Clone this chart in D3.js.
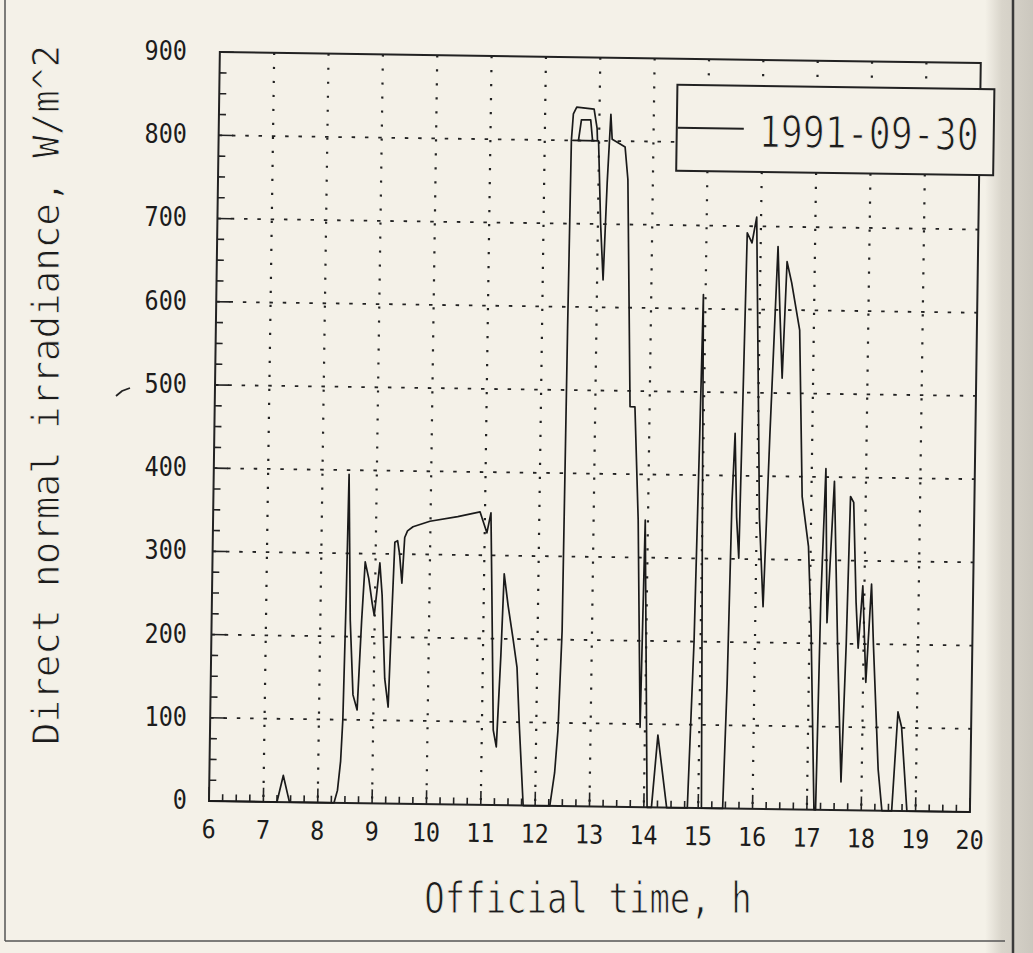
<!DOCTYPE html>
<html><head><meta charset="utf-8">
<script src="https://cdn.jsdelivr.net/npm/d3@7"></script>
<style>
body{margin:0;background:#f4f1e8;}
svg{display:block}
.ink{font-family:"DejaVu Sans Mono",monospace;fill:#1c1c1c;stroke:#f4f1e8;paint-order:normal}
</style></head><body>
<svg id="chart" width="1033" height="953"></svg>
<script>
// ---- data ----
const hours = [6.0,7.25,7.36,7.48,8.30,8.36,8.41,8.44,8.47,8.49,8.55,8.62,8.70,8.76,8.81,8.88,8.95,8.99,9.04,9.08,9.13,9.20,9.27,9.31,9.35,9.40,9.44,9.49,9.53,9.58,9.68,9.99,10.5,10.91,11.04,11.11,11.15,11.21,11.27,11.33,11.37,11.45,11.55,11.63,11.69,11.78,12.27,12.35,12.40,12.45,12.47,12.49,12.52,12.58,12.90,12.96,12.97,12.88,12.84,12.67,12.62,12.52,12.99,13.05,13.11,13.16,13.21,13.24,13.35,13.48,13.54,13.64,13.73,13.82,13.91,13.95,14.06,14.14,14.24,14.42,14.80,14.88,14.93,14.96,15.00,15.06,15.45,15.50,15.54,15.58,15.63,15.68,15.75,15.84,15.92,15.96,16.05,16.14,16.22,16.32,16.37,16.43,16.49,16.58,16.74,16.83,16.96,17.03,17.13,17.16,17.20,17.26,17.32,17.42,17.52,17.62,17.68,17.72,17.78,17.85,17.90,17.97,18.05,18.13,18.18,18.30,18.38,18.56,18.65,18.72,18.84,20.0];
const irradiance = [0,0,32,0,0,15,50,100,250,395,220,130,112,220,290,270,240,226,260,289,250,150,116,220,314,316,300,265,320,328,333,340,346,352,327,351,250,90,70,180,278,240,200,166,94,0,0,40,91,210,570,800,832,840,838,815,800,800,825,825,800,800,800,700,633,750,832,802,798,793,754,481,481,345,96,345,0,0,87,0,0,200,450,617,350,0,0,150,367,451,350,301,692,680,711,600,350,243,450,676,600,518,658,633,576,376,316,216,0,0,250,410,225,395,200,34,200,377,370,250,195,270,154,272,200,50,0,0,119,101,0,0];
const xTicks = [6,7,8,9,10,11,12,13,14,15,16,17,18,19,20];
const yTicks = [0,100,200,300,400,500,600,700,800,900];
const seriesName = "1991-09-30";
const xTitle = "Official time, h";
const yTitle = "Direct normal irradiance, W/m^2";

// ---- layout ----
const svg = d3.select("#chart");
const L = 209, R = 970, T = 52, B = 801;
const x = d3.scaleLinear().domain([6,20]).range([L,R]);
const y = d3.scaleLinear().domain([0,900]).range([B,T]);
const ink = "#222";

const defs = svg.append("defs");
const g1 = defs.append("linearGradient").attr("id","edge").attr("x1",0).attr("x2",1);
g1.append("stop").attr("offset",0).attr("stop-color","#f4f1e8");
g1.append("stop").attr("offset",0.35).attr("stop-color","#d9d5cb");
g1.append("stop").attr("offset",1).attr("stop-color","#cbc7be");
svg.append("rect").attr("x",0).attr("y",0).attr("width",1033).attr("height",953).attr("fill","#f4f1e8");
svg.append("rect").attr("x",985).attr("y",0).attr("width",48).attr("height",953).attr("fill","url(#edge)");
svg.append("line").attr("x1",1013).attr("x2",1013).attr("y1",0).attr("y2",953).attr("stroke","#3a3a3a").attr("stroke-width",2.5);
svg.append("line").attr("x1",5).attr("x2",5).attr("y1",0).attr("y2",941).attr("stroke","#555").attr("stroke-width",1.5);
svg.append("line").attr("x1",5).attr("x2",1005).attr("y1",941).attr("y2",941).attr("stroke","#555").attr("stroke-width",1.5);

// rotated plot group (the scan is slightly tilted)
const g = svg.append("g").attr("transform",`rotate(0.83,${L},${B})`);

g.append("g").selectAll("line").data(yTicks.filter(v=>v>0&&v<900)).join("line")
  .attr("x1",L).attr("x2",R).attr("y1",d=>y(d)).attr("y2",d=>y(d))
  .attr("stroke",ink).attr("stroke-width",1.8).attr("stroke-dasharray","3.5,9.8");
g.append("g").selectAll("line").data(xTicks.filter(v=>v>6&&v<20)).join("line")
  .attr("x1",d=>x(d)).attr("x2",d=>x(d)).attr("y1",T).attr("y2",B)
  .attr("stroke",ink).attr("stroke-width",2.2).attr("stroke-dasharray","2.2,11.8");

const xMinor = d3.range(6,20.001,0.25);
g.append("g").selectAll("line").data(xMinor).join("line")
  .attr("x1",d=>x(d)).attr("x2",d=>x(d)).attr("y1",B)
  .attr("y2",d=>Math.abs(d-Math.round(d))<1e-6?B-14:B-7)
  .attr("stroke",ink).attr("stroke-width",1.6);
const yMinor = d3.range(0,900.001,25);
g.append("g").selectAll("line").data(yMinor).join("line")
  .attr("y1",d=>y(d)).attr("y2",d=>y(d)).attr("x1",L)
  .attr("x2",d=>d%100===0?L+14:L+7)
  .attr("stroke",ink).attr("stroke-width",1.6);

g.append("rect").attr("x",L).attr("y",T).attr("width",R-L).attr("height",B-T)
  .attr("fill","none").attr("stroke",ink).attr("stroke-width",2);

const line = d3.line().x(d=>x(d[0])).y(d=>y(d[1]));
g.append("path").datum(hours.map((h,i)=>[h,irradiance[i]]))
  .attr("d",line).attr("fill","none").attr("stroke","#1a1a1a").attr("stroke-width",1.7)
  .attr("stroke-linejoin","round");

g.append("g").selectAll("text").data(xTicks).join("text").attr("class","ink")
  .attr("transform",d=>`translate(${x(d)},838) scale(1,1.1)`).attr("text-anchor","middle")
  .attr("font-size",23.5).attr("stroke-width",0).text(d=>d);

const lg = g.append("g");
lg.append("rect").attr("x",667).attr("y",78).attr("width",317).attr("height",86)
  .attr("fill","#f4f1e8").attr("stroke",ink).attr("stroke-width",2);
lg.append("line").attr("x1",668).attr("x2",734).attr("y1",121).attr("y2",121)
  .attr("stroke",ink).attr("stroke-width",2);
lg.append("text").attr("class","ink").attr("transform","translate(749,139) scale(1,1.22)")
  .attr("font-size",36).attr("stroke-width",0.9).attr("textLength",220).attr("lengthAdjust","spacingAndGlyphs").text(seriesName);

svg.append("g").selectAll("text").data(yTicks).join("text").attr("class","ink")
  .attr("transform",d=>`translate(187,${y(d)+8}) scale(1,1.1)`).attr("text-anchor","end")
  .attr("font-size",23.5).attr("stroke-width",0).text(d=>d);

svg.append("text").attr("class","ink").attr("transform","translate(588,913) scale(1,1.25)")
  .attr("text-anchor","middle").attr("font-size",34).attr("stroke-width",0.8).text(xTitle);
svg.append("text").attr("class","ink").attr("transform","translate(59,395) rotate(-90)")
  .attr("text-anchor","middle").attr("font-size",37).attr("stroke-width",0.9)
  .attr("textLength",700).attr("lengthAdjust","spacingAndGlyphs").text(yTitle);

// small pen mark beside the 500 label
svg.append("path").attr("d",d3.line()([[116,396],[122,391],[130,388]]))
  .attr("fill","none").attr("stroke",ink).attr("stroke-width",1.8);
</script>
</body></html>
